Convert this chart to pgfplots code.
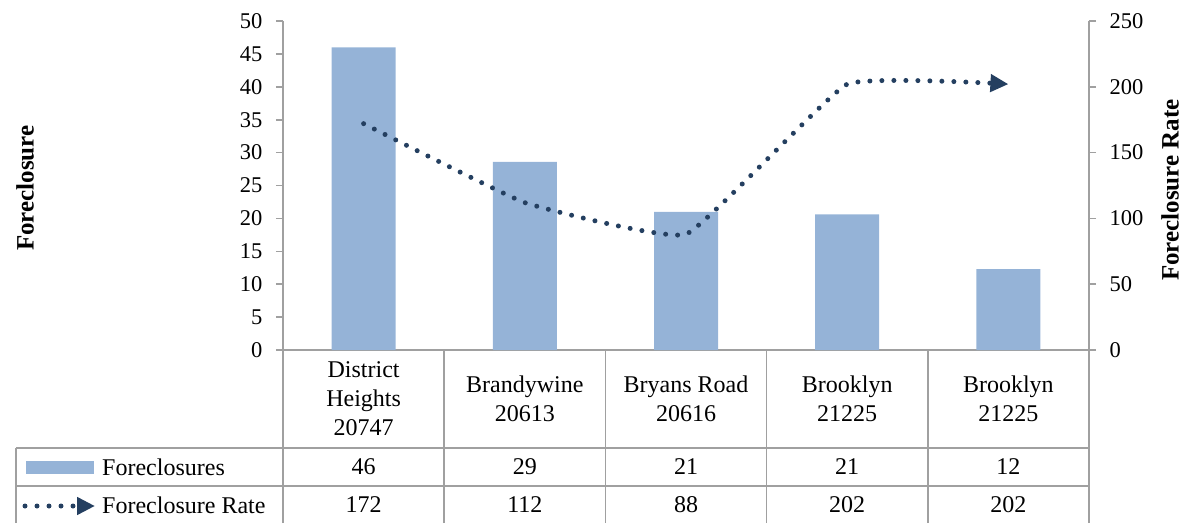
\documentclass[border=0pt]{standalone}
\usepackage{fontspec}
\setmainfont{Liberation Serif}
\usepackage{pgfplots}
\usepackage{pgfplotstable}
\pgfplotsset{compat=1.18}
\usetikzlibrary{arrows.meta}
\definecolor{barblue}{HTML}{95B3D7}
\definecolor{navy}{HTML}{243F60}
\definecolor{gridgray}{HTML}{A0A0A0}
\pgfkeys{/pgf/number format/assume math mode=true}

\pgfplotstableread{
x fc rate
0 46.0 172
1 28.6 112
2 21.0 88
3 20.6 202
4 12.3 202
}\data

\newcommand{\tabfont}{\fontsize{24}{29}\selectfont}
\newcommand{\labfont}{\fontsize{25}{30}\selectfont\bfseries}

\tikzset{
  rateline/.style={navy, line width=5pt, dash pattern=on 0pt off 12pt, line cap=round,
    -{Triangle[length=18pt,width=17pt]}},
}
\pgfplotsset{
  common/.style={
    scale only axis, width=806pt, height=329pt,
    at={(283pt,173pt)}, anchor=south west,
    xmin=-0.5, xmax=4.5,
    axis line style={draw=gridgray, line width=1.6pt, -},
    every tick/.style={draw=gridgray, line width=1.6pt},
    major tick length=7pt,
    tick align=outside,
    /pgf/number format/assume math mode=true,
    tick label style={font=\fontsize{22.5}{26}\selectfont},
    clip=false,
  },
}

\begin{document}
\begin{tikzpicture}[x=1pt,y=1pt]
\useasboundingbox (0,0) rectangle (1185,523);

\begin{axis}[common, ybar, bar width=64pt,
  ymin=0, ymax=50, ytick={0,5,...,50},
  axis y line*=left, axis x line*=bottom,
  yticklabel style={xshift=-10pt},
  xtick={0,...,4},
  xticklabels={{District\\Heights\\20747},{Brandywine\\20613},{Bryans Road\\20616},{Brooklyn\\21225},{Brooklyn\\21225}},
  x tick style={draw=none},
  xticklabel style={align=center, anchor=center, yshift=-42pt, font=\tabfont},
  every axis y label/.style={at={(axis description cs:-0.32,0.492)}, rotate=90, anchor=center, font=\labfont},
  ylabel={Foreclosure},
]
\addplot[fill=barblue, draw=none] table[x=x, y=fc]{\data};
\end{axis}

\begin{axis}[common,
  ymin=0, ymax=250, ytick={0,50,...,250},
  axis y line*=right, axis x line=none, xtick=\empty,
  yticklabel style={xshift=10pt},
  every axis y label/.style={at={(axis description cs:1.1005,0.486)}, rotate=90, anchor=center, font=\labfont},
  ylabel={Foreclosure Rate},
]
\addplot[rateline, smooth, tension=0.2] table[x=x, y=rate]{\data};
\end{axis}

% data table below the chart
\draw[gridgray, line width=1.6pt] (16,75) -- (1089,75) (16,37) -- (1089,37) (16,0) -- (16,75);
\foreach \xx in {283,444.2,605.4,766.6,927.8,1089}
  \draw[gridgray, line width=1.6pt] (\xx,0) -- (\xx,173);

\foreach \i in {0,...,4}{
  \pgfplotstablegetelem{\i}{fc}\of\data
  \node[font=\tabfont] at ({283+161.2*(\i+0.5)},56) {\pgfmathprintnumber[fixed,precision=0]{\pgfplotsretval}};
  \pgfplotstablegetelem{\i}{rate}\of\data
  \node[font=\tabfont] at ({283+161.2*(\i+0.5)},18) {\pgfmathprintnumber[fixed,precision=0]{\pgfplotsretval}};
}

% legend keys
\fill[barblue] (26,49) rectangle (94,62);
\node[font=\tabfont, anchor=west, inner sep=0pt] at (102,56) {Foreclosures};
\draw[rateline] (25,17) -- (95,17);
\node[font=\tabfont, anchor=west, inner sep=0pt] at (102,18) {Foreclosure Rate};
\end{tikzpicture}
\end{document}
